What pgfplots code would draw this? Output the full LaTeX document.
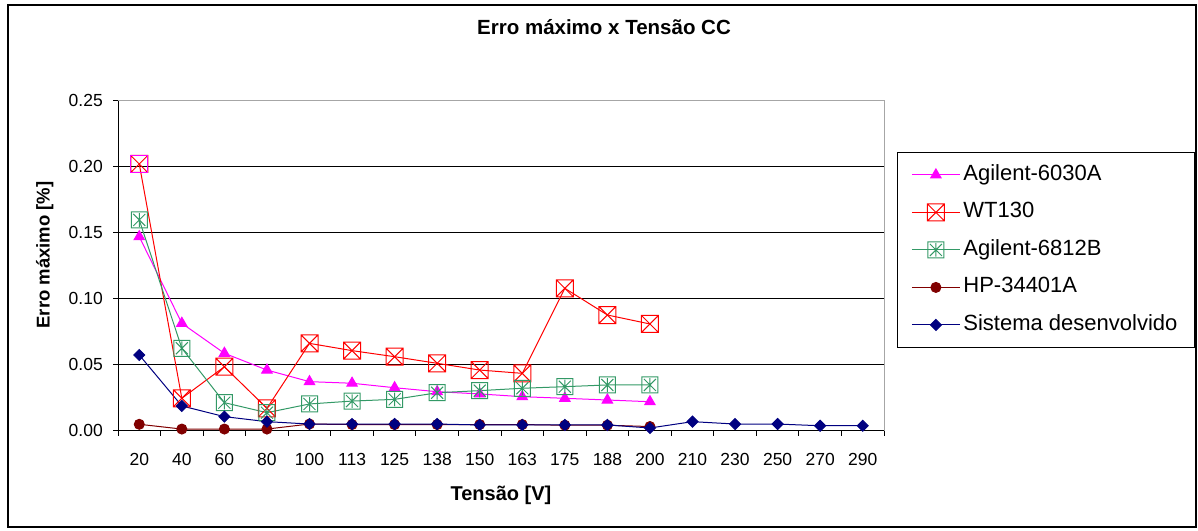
\documentclass[border=0pt]{standalone}
\usepackage{pgfplots}
\pgfplotsset{compat=1.18}
\usepackage{fontspec}
\setmainfont{Liberation Sans}

\definecolor{xlmagenta}{HTML}{FF00FF}
\definecolor{xlred}{HTML}{FF0000}
\definecolor{xlgreen}{HTML}{339966}
\definecolor{xlmaroon}{HTML}{800000}
\definecolor{xlnavy}{HTML}{000080}

% Excel-like markers
\pgfdeclareplotmark{boxx}{%
  \pgfpathrectangle{\pgfqpoint{-\pgfplotmarksize}{-\pgfplotmarksize}}{\pgfqpoint{2\pgfplotmarksize}{2\pgfplotmarksize}}%
  \pgfpathmoveto{\pgfqpoint{-\pgfplotmarksize}{-\pgfplotmarksize}}\pgfpathlineto{\pgfqpoint{\pgfplotmarksize}{\pgfplotmarksize}}%
  \pgfpathmoveto{\pgfqpoint{-\pgfplotmarksize}{\pgfplotmarksize}}\pgfpathlineto{\pgfqpoint{\pgfplotmarksize}{-\pgfplotmarksize}}%
  \pgfusepathqstroke}
\pgfdeclareplotmark{boxstar}{%
  \pgfpathrectangle{\pgfqpoint{-\pgfplotmarksize}{-\pgfplotmarksize}}{\pgfqpoint{2\pgfplotmarksize}{2\pgfplotmarksize}}%
  \pgfpathmoveto{\pgfqpoint{-.75\pgfplotmarksize}{-.75\pgfplotmarksize}}\pgfpathlineto{\pgfqpoint{.75\pgfplotmarksize}{.75\pgfplotmarksize}}%
  \pgfpathmoveto{\pgfqpoint{-.75\pgfplotmarksize}{.75\pgfplotmarksize}}\pgfpathlineto{\pgfqpoint{.75\pgfplotmarksize}{-.75\pgfplotmarksize}}%
  \pgfpathmoveto{\pgfqpoint{0pt}{-.85\pgfplotmarksize}}\pgfpathlineto{\pgfqpoint{0pt}{.85\pgfplotmarksize}}%
  \pgfusepathqstroke}
\pgfdeclareplotmark{sqdiamond}{%
  \pgfpathmoveto{\pgfqpoint{0pt}{\pgfplotmarksize}}%
  \pgfpathlineto{\pgfqpoint{\pgfplotmarksize}{0pt}}%
  \pgfpathlineto{\pgfqpoint{0pt}{-\pgfplotmarksize}}%
  \pgfpathlineto{\pgfqpoint{-\pgfplotmarksize}{0pt}}%
  \pgfpathclose
  \pgfusepathqfillstroke}

\begin{document}
\begin{tikzpicture}
\begin{axis}[
  scale only axis,
  width=766bp, height=330bp,
  xmin=-0.5, xmax=17.5,
  ymin=0, ymax=0.25,
  clip=false,
  xtick={-0.5,0.5,...,17.5},
  xticklabels={20,40,60,80,100,113,125,138,150,163,175,188,200,210,230,250,270,290,},
  xticklabel style={anchor=north, inner sep=0pt, xshift=21.28bp, yshift=-18bp},
  ytick={0,0.05,0.1,0.15,0.2,0.25},
  yticklabels={0.00,0.05,0.10,0.15,0.20,0.25},
  yticklabel style={anchor=east, inner sep=0pt, xshift=-10bp},
  tick label style={font=\fontsize{17.5bp}{20bp}\selectfont},
  tick align=outside,
  major tick length=5bp,
  tick pos=left,
  tick style={black, line width=0.8bp},
  ymajorgrids,
  grid style={black, line width=0.8bp},
  axis line style={black, line width=0.8bp},
  title={Erro máximo x Tensão CC},
  title style={font=\fontsize{20.5bp}{24bp}\selectfont\bfseries,
    at={(axis description cs:0.6345,1.2045)}, anchor=center},
  xlabel={Tensão [V]},
  xlabel style={font=\fontsize{20bp}{24bp}\selectfont\bfseries,
    at={(axis description cs:0.5,-0.1955)}, anchor=center},
  ylabel={Erro máximo [\%]},
  ylabel style={font=\fontsize{18.5bp}{22bp}\selectfont\bfseries,
    at={(axis description cs:-0.0957,0.532)}, anchor=center},
  legend cell align=left,
  legend style={at={(axis description cs:1.01697,0.8439)}, anchor=north west,
    draw=black, line width=0.8bp,
    font=\fontsize{22bp}{26bp}\selectfont,
    inner xsep=14bp, inner ysep=12bp,
    row sep=16.5bp, column sep=0bp,
    nodes={inner xsep=3bp, inner ysep=0pt, text height=16bp, text depth=5bp}},
  legend image code/.code={\draw[mark repeat=2,mark phase=2,#1]
    plot coordinates {(0bp,0bp) (24bp,0bp) (48bp,0bp)};},
  every axis plot/.append style={line width=1bp, mark options={solid, line width=1bp}},
  after end axis/.code={
    \draw[gray!70, line width=0.8bp] (rel axis cs:0,1) -- (rel axis cs:1,1) -- (rel axis cs:1,0);
    \draw[black, line width=1.3bp] (axis description cs:-0.14360,-0.29242)
      rectangle (axis description cs:1.40731,1.28939);
    \path (axis description cs:-0.15405,-0.30455) rectangle (axis description cs:1.40992,1.30455);
  },
]

\addplot[xlmagenta, mark=triangle*, mark size=6bp] coordinates {
  (0,0.1468) (1,0.0812) (2,0.0585) (3,0.0458) (4,0.0370) (5,0.0358) (6,0.0324)
  (7,0.0294) (8,0.0277) (9,0.0256) (10,0.0244) (11,0.0231) (12,0.0218)
};
\addlegendentry{Agilent-6030A}

\addplot[xlred, mark=boxx, mark size=8.5bp] coordinates {
  (0,0.2019) (1,0.0244) (2,0.0483) (3,0.0168) (4,0.0660) (5,0.0605) (6,0.0559)
  (7,0.0509) (8,0.0458) (9,0.0433) (10,0.1077) (11,0.0875) (12,0.0807)
};
\addlegendentry{WT130}
\addplot[forget plot, only marks, xlmagenta, mark=square, mark size=8.5bp] coordinates {(0,0.2019)};

\addplot[xlgreen, mark=boxstar, mark size=8bp] coordinates {
  (0,0.1595) (1,0.0623) (2,0.0211) (3,0.0135) (4,0.0201) (5,0.0223) (6,0.0236)
  (7,0.0286) (8,0.0302) (9,0.0320) (10,0.0332) (11,0.0345) (12,0.0345)
};
\addlegendentry{Agilent-6812B}

\addplot[xlmaroon, mark=*, mark size=5bp] coordinates {
  (0,0.0047) (1,0.0011) (2,0.0011) (3,0.0011) (4,0.0049) (5,0.0045) (6,0.0045)
  (7,0.0045) (8,0.0045) (9,0.0045) (10,0.0040) (11,0.0040) (12,0.0030)
};
\addlegendentry{HP-34401A}

\addplot[xlnavy, mark=sqdiamond, mark size=5.5bp] coordinates {
  (0,0.0572) (1,0.0186) (2,0.0105) (3,0.0067) (4,0.0049) (5,0.0049) (6,0.0049)
  (7,0.0049) (8,0.0042) (9,0.0042) (10,0.0042) (11,0.0042) (12,0.0019)
  (13,0.0067) (14,0.0049) (15,0.0049) (16,0.0036) (17,0.0036)
};
\addlegendentry{Sistema desenvolvido}

\end{axis}
\end{tikzpicture}
\end{document}
